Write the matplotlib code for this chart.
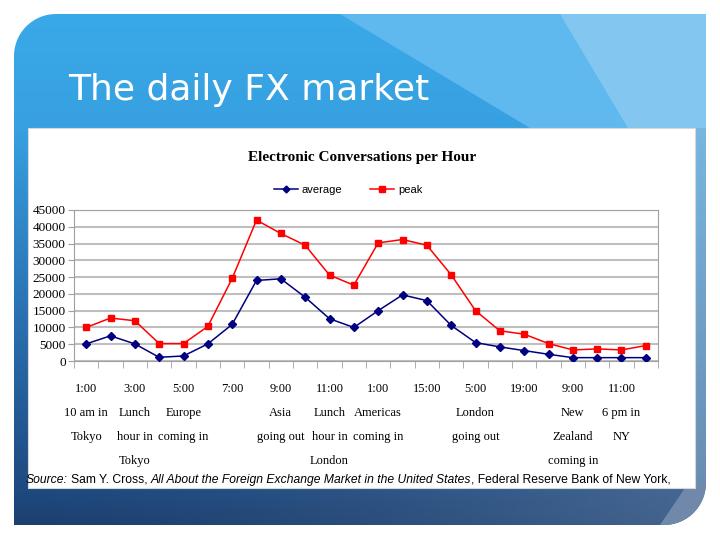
import numpy as np
import matplotlib.pyplot as plt
from matplotlib.patches import Rectangle, Polygon
from matplotlib.lines import Line2D
import matplotlib.transforms as mtransforms

# hourly values (24 hours)
average = [5100, 7500, 5100, 1100, 1500, 5100, 10900, 24000, 24500, 19000, 12600, 10000,
           15000, 19700, 18000, 10600, 5500, 4200, 3100, 2000, 1000, 1000, 1000, 1000]
peak = [10000, 12800, 12000, 5200, 5200, 10300, 24600, 42000, 38000, 34500, 25600, 22600,
        35200, 36200, 34500, 25700, 15000, 9000, 8000, 5200, 3300, 3600, 3300, 4600]
hour_labels = ['1:00', '3:00', '5:00', '7:00', '9:00', '11:00',
               '1:00', '15:00', '5:00', '19:00', '9:00', '11:00']
hour_notes = ['10 am in\nTokyo', 'Lunch\nhour in\nTokyo', 'Europe\ncoming in', '',
              'Asia\ngoing out', 'Lunch\nhour in\nLondon', 'Americas\ncoming in', '',
              'London\ngoing out', '', 'New\nZealand\ncoming in', '6 pm in\nNY']
y_ticks = list(range(0, 45001, 5000))

serif = ['Liberation Serif', 'DejaVu Serif']
narrow = ['Liberation Sans Narrow', 'Liberation Sans', 'DejaVu Sans']

fig = plt.figure(figsize=(7.2, 5.4), dpi=100)
W, H = 720, 540

# ---- slide background (pixel coords) ----
bg = fig.add_axes([0, 0, 1, 1])
bg.set_xlim(0, W)
bg.set_ylim(H, 0)
bg.axis('off')

x0, x1, y0, y1, r = 14, 706, 14, 525, 42
t = np.linspace(0, np.pi / 2, 20)
shape = [(x0, y1), (x0, y0 + r)]
shape += [(x0 + r - r * np.cos(a), y0 + r - r * np.sin(a)) for a in t]
shape += [(x1, y0), (x1, y1 - r)]
shape += [(x1 - r + r * np.sin(a), y1 - r + r * np.cos(a)) for a in t[::-1]]
slide = Polygon(shape, closed=True, facecolor='none', edgecolor='none')
bg.add_patch(slide)

ys = np.arange(H)
stops = [14, 128, 300, 488, 525]
cols = np.array([[58, 169, 232], [55, 160, 224], [43, 116, 181], [30, 74, 128], [28, 63, 110]]) / 255
img = np.zeros((H, W, 3))
for c in range(3):
    img[:, :, c] = np.interp(ys, stops, cols[:, c])[:, None]
xs = np.arange(W) / W
k = (0.7 * xs ** 1.6)[:, None]
light = np.array([90, 120, 158]) / 255
low = ys > 488
img[low] = img[low] * (1 - k) + light * k
strip_top = np.array([124, 196, 238]) / 255
strip_bot = np.array([103, 136, 174]) / 255
tt = np.clip((ys - 14) / 511, 0, 1)[:, None]
img[:, 694:, :] = (strip_top * (1 - tt) + strip_bot * tt)[:, None, :]
im = bg.imshow(img, extent=(0, W, H, 0), aspect='auto', interpolation='bilinear')
im.set_clip_path(slide)

w1 = Polygon([(340, 14), (560, 14), (640, 128), (530, 128)], facecolor='#60B9EE', edgecolor='none')
w2 = Polygon([(560, 14), (706, 14), (706, 128), (628, 128)], facecolor='#83C7F0', edgecolor='none')
w3 = Polygon([(685, 488), (706, 480), (706, 525), (660, 525)], facecolor='#7089AA', edgecolor='none')
for w in (w1, w2, w3):
    bg.add_patch(w)
    w.set_clip_path(slide)

bg.add_patch(Rectangle((28, 128), 667, 360, facecolor='white', edgecolor='#D8D8D8', lw=0.8))

bg.text(68, 100, 'The daily FX market', color='white', fontsize=26,
        family=['DejaVu Sans'], va='baseline', ha='left')

bg.text(362, 157, 'Electronic Conversations per Hour', fontsize=11, fontweight='bold',
        family=serif, ha='center', va='center')

# source line with italic parts
fig.canvas.draw()
rend = fig.canvas.get_renderer()
pieces = [('Source:', 'italic', 3), ('Sam Y. Cross,', 'normal', 3),
          ('All About the Foreign Exchange Market in the United States', 'italic', 0),
          (', Federal Reserve Bank of New York,', 'normal', 0)]
xpos = 26
for txt, sty, gap in pieces:
    tobj = bg.text(xpos, 483, txt, fontsize=8.7, style=sty, family=['Liberation Sans', 'DejaVu Sans'],
                   ha='left', va='baseline')
    xpos = tobj.get_window_extent(renderer=rend).x1 + gap

# ---- chart ----
ax = fig.add_axes([74 / W, 1 - 361 / H, 584 / W, 151 / H])
x = np.arange(len(average))
ax.plot(x, average, color='#000080', lw=1.1, marker='D', ms=4, label='average', zorder=3)
ax.plot(x, peak, color='#FF0000', lw=1.1, marker='s', ms=4.5, label='peak', zorder=3)
ax.set_xlim(-0.5, len(average) - 0.5)
ax.set_ylim(0, 45000)
ax.set_yticks(y_ticks)
ax.set_yticklabels([str(v) for v in y_ticks], family=serif, fontsize=9.5)
ax.yaxis.grid(True, color='#BFBFBF', lw=1.5)
ax.set_axisbelow(True)
for s in ax.spines.values():
    s.set_color('#A0A0A0')
ax.tick_params(axis='y', length=4, color='#A0A0A0', pad=2)
ax.set_xticks([])
ax.set_xticks(np.arange(-0.5, len(average)), minor=True)
ax.tick_params(axis='x', which='minor', length=5, color='#A0A0A0')

blend = mtransforms.blended_transform_factory(ax.transData, fig.transFigure)
for i, (hl, note) in enumerate(zip(hour_labels, hour_notes)):
    lab = hl + ('\n' + note if note else '')
    ax.text(2 * i, 1 - 383 / H, lab, transform=blend, ha='center', va='top',
            family=serif, fontsize=9, linespacing=2.35, multialignment='center')

handles = [Line2D([], [], color='#000080', lw=1.1, marker='D', ms=3.5),
           Line2D([], [], color='#FF0000', lw=1.1, marker='s', ms=4)]
fig.legend(handles, ['average', 'peak'], loc='center', bbox_to_anchor=(348 / W, 1 - 190 / H),
           ncol=2, frameon=False, prop={'family': narrow, 'size': 8},
           handlelength=2.2, columnspacing=2.5, handletextpad=0.3)

fig.savefig('out.png', dpi=100)
